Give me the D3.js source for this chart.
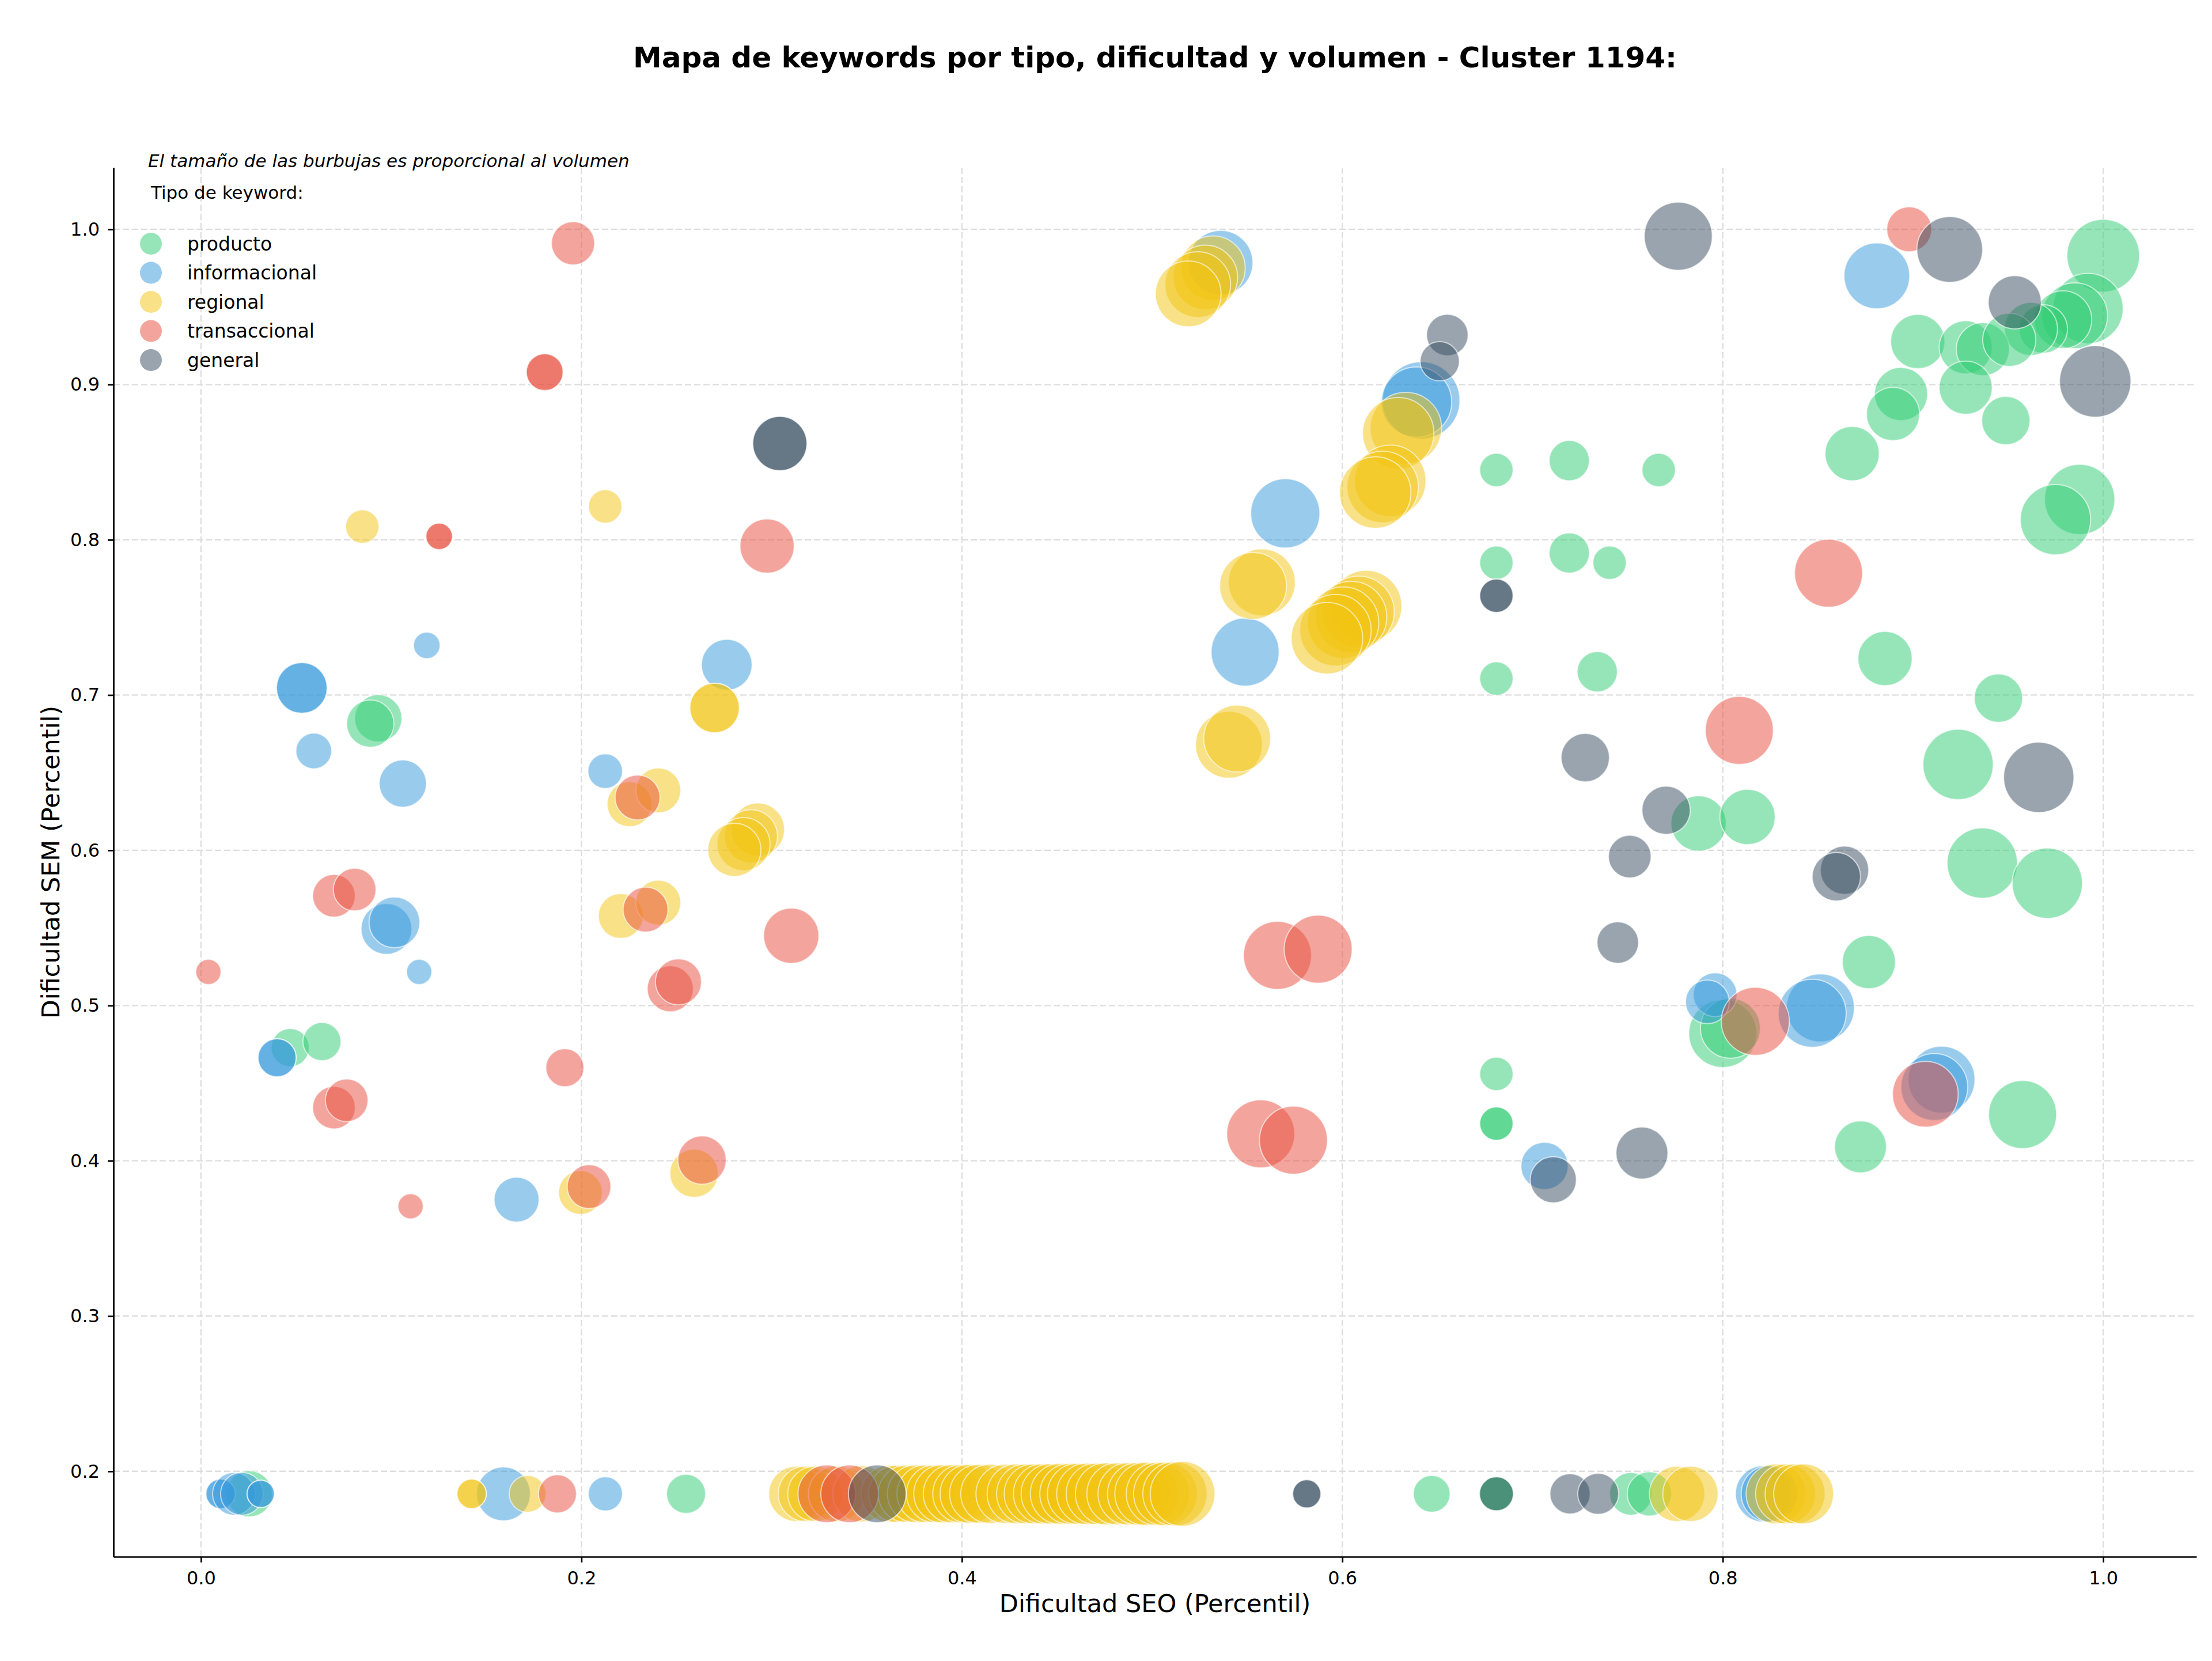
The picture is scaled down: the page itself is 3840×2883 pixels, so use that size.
<!DOCTYPE html>
<html><head><meta charset="utf-8">
<script src="https://cdn.jsdelivr.net/npm/d3@7"></script>
<style>body{margin:0;background:#fff} svg{display:block} text{font-family:"DejaVu Sans",sans-serif}</style>
</head><body>
<script>
// ---------- DATA ----------
const tipos = ["producto", "informacional", "regional", "transaccional", "general"];
const colores = ["#2ecc71", "#3498db", "#f1c40f", "#e74c3c", "#34495e"];

// [Dificultad SEO, Dificultad SEM, volumen]
const producto = [
  [0.0932,0.685,1680],[0.089,0.6816,1680],[0.0469,0.4729,1090],[0.0636,0.4768,1090],
  [0.0254,0.1855,1600],[0.255,0.1855,1150],[0.647,0.1855,1020],[0.681,0.1855,870],[0.681,0.1855,870],
  [0.7517,0.1855,1370],[0.7614,0.1855,1480],
  [0.681,0.845,840],[0.7193,0.851,1220],[0.7663,0.845,840],[0.681,0.7852,840],[0.7193,0.7915,1220],
  [0.7405,0.7852,840],[0.681,0.7106,840],[0.734,0.715,1220],[0.681,0.456,840],[0.681,0.424,840],[0.681,0.424,840],
  [1.0,0.983,3970],[0.992,0.949,3720],[0.985,0.9443,3250],[0.9788,0.9418,2500],[0.9685,0.9358,1760],
  [0.962,0.9358,2120],[0.9025,0.9277,2210],[0.9277,0.924,2120],[0.9367,0.9228,2120],[0.9506,0.9288,2120],
  [0.9277,0.898,2120],[0.8937,0.8939,2120],[0.8895,0.881,2120],[0.9488,0.8768,1760],[0.868,0.8555,2210],
  [0.9876,0.826,3720],[0.9749,0.813,3720],[0.8853,0.7235,2210],[0.9449,0.698,1760],[0.9237,0.6553,3720],
  [0.7873,0.6173,2300],[0.813,0.6215,2300],[0.9364,0.5918,3720],[0.9706,0.5788,3720],[0.8768,0.528,2120],
  [0.800,0.482,3480],[0.804,0.4854,2700],[0.9576,0.4298,3480],[0.8724,0.409,2030]
];
const informacional = [
  [0.053,0.7046,1940],[0.053,0.7046,1940],[0.1187,0.732,530],[0.2764,0.7195,1940],[0.0593,0.664,960],
  [0.1061,0.643,1680],[0.2125,0.651,900],[0.0975,0.5494,1940],[0.1017,0.5536,1940],[0.1147,0.5217,480],
  [0.040,0.4664,1090],[0.040,0.4664,1090],[0.1659,0.375,1520],
  [0.536,0.9785,3130],[0.6415,0.8898,4490],[0.639,0.8887,3720],[0.570,0.817,3600],[0.5489,0.7277,3480],
  [0.881,0.970,3250],[0.796,0.507,1440],[0.7919,0.5024,1440],[0.8513,0.4985,3480],[0.847,0.495,3480],
  [0.915,0.4523,3360],[0.9112,0.4475,3360],[0.7063,0.3967,1680],
  [0.0103,0.1855,650],[0.0103,0.1855,650],[0.0173,0.1855,1370],[0.0215,0.1855,1370],
  [0.0314,0.1855,560],[0.0314,0.1855,560],[0.159,0.1855,2180],[0.2126,0.1855,880],
  [0.8215,0.1855,2400],[0.8245,0.1855,2400]
];
const regional = [
  [0.2125,0.8215,840],[0.0848,0.8085,840],[0.270,0.6917,1850],[0.270,0.6917,1850],
  [0.2253,0.6297,1520],[0.2404,0.6386,1520],[0.2928,0.6134,2120],[0.2891,0.609,2120],
  [0.2852,0.604,2120],[0.2804,0.6003,2120],[0.2207,0.5577,1520],[0.2404,0.5663,1520],
  [0.1995,0.3796,1440],[0.2592,0.392,1760],
  [0.532,0.975,3130],[0.528,0.969,3130],[0.524,0.9644,3250],[0.519,0.9584,3250],
  [0.6334,0.872,3840],[0.6294,0.8686,3840],[0.6252,0.838,3840],[0.6212,0.834,3840],[0.6173,0.8304,3840],
  [0.5577,0.7726,3360],[0.5531,0.7703,3360],
  [0.6125,0.7573,3840],[0.6085,0.7536,3840],[0.6046,0.7503,3840],[0.6004,0.7466,3840],[0.5964,0.7418,3840],[0.5919,0.7366,3840],
  [0.5404,0.668,3360],[0.5447,0.672,3360],
  [0.1423,0.1855,650],[0.1423,0.1855,650],[0.1717,0.1855,1020],
  [0.313,0.1855,2300],[0.318,0.1855,2300],[0.323,0.1855,2300],[0.334,0.1855,2350],[0.347,0.1855,2400],
  [0.362,0.1855,2450],[0.366,0.1855,2450],[0.371,0.1855,2450],[0.376,0.1855,2500],[0.381,0.1855,2500],
  [0.386,0.1855,2500],[0.390,0.1855,2550],[0.395,0.1855,2550],[0.400,0.1855,2550],[0.404,0.1855,2600],
  [0.409,0.1855,2600],[0.415,0.1855,2650],[0.423,0.1855,2650],[0.429,0.1855,2700],[0.434,0.1855,2700],
  [0.438,0.1855,2700],[0.443,0.1855,2750],[0.447,0.1855,2750],[0.452,0.1855,2800],[0.457,0.1855,2800],
  [0.461,0.1855,2800],[0.466,0.1855,2850],[0.471,0.1855,2850],[0.476,0.1855,2900],[0.482,0.1855,2900],
  [0.488,0.1855,2950],[0.493,0.1855,2950],[0.497,0.1855,3000],[0.503,0.1855,3000],[0.507,0.1855,3050],
  [0.512,0.1855,3100],[0.516,0.1855,3150],
  [0.776,0.1855,2300],[0.783,0.1855,2300],[0.828,0.1855,2700],[0.833,0.1855,2700],[0.838,0.1855,2700],[0.8425,0.1855,2700]
];
const transaccional = [
  [0.1956,0.991,1410],[0.1807,0.908,1020],[0.1807,0.908,1020],[0.1252,0.8022,530],[0.1252,0.8022,530],
  [0.2976,0.796,2210],[0.2295,0.634,1520],[0.0699,0.5707,1370],[0.0808,0.5747,1370],[0.0039,0.5217,480],
  [0.2337,0.5618,1520],[0.3103,0.545,2300],[0.2467,0.5108,1600],[0.251,0.5153,1600],[0.0699,0.4343,1370],
  [0.0766,0.439,1370],[0.1913,0.46,1090],[0.1102,0.3707,480],[0.204,0.3834,1440],[0.2634,0.4005,1760],
  [0.5659,0.5323,3480],[0.5873,0.5363,3480],[0.5571,0.4174,3480],[0.5743,0.4133,3480],
  [0.898,1.0,1520],[0.8556,0.7785,3480],[0.8087,0.6772,3480],[0.8171,0.4898,3480],[0.9065,0.4429,3250],
  [0.1874,0.1855,1090],[0.329,0.1855,2500],[0.341,0.1855,2500]
];
const general = [
  [0.3043,0.862,2210],[0.3043,0.862,2210],[0.6552,0.9319,1300],[0.6512,0.915,1160],
  [0.681,0.764,840],[0.681,0.764,840],[0.7766,0.9955,3480],[0.9193,0.987,3250],[0.9535,0.953,2120],
  [0.9958,0.902,3840],[0.7277,0.6597,1760],[0.9661,0.647,3720],[0.7702,0.6258,1760],[0.7511,0.596,1370],
  [0.864,0.5872,1760],[0.8597,0.583,1760],[0.7448,0.5406,1300],[0.7109,0.3878,1600],[0.7575,0.405,2030],
  [0.5813,0.1855,600],[0.5813,0.1855,600],[0.681,0.1855,870],[0.7197,0.1855,1220],[0.7345,0.1855,1260],
  [0.3555,0.1855,2500]
];
const series = [producto, informacional, regional, transaccional, general];

const xTicks = [0.0, 0.2, 0.4, 0.6, 0.8, 1.0];
const yTicks = [0.2, 0.3, 0.4, 0.5, 0.6, 0.7, 0.8, 0.9, 1.0];

const titulo = "Mapa de keywords por tipo, dificultad y volumen - Cluster 1194:";
const nota = "El tamaño de las burbujas es proporcional al volumen";
const tituloLeyenda = "Tipo de keyword:";
const xLabel = "Dificultad SEO (Percentil)";
const yLabel = "Dificultad SEM (Percentil)";

// ---------- CHART ----------
const W = 3840, H = 2883;
const m = {left: 197, right: 27, top: 291, bottom: 181};

const svg = d3.select("body").append("svg").attr("width", W).attr("height", H);

const x = d3.scaleLinear().domain([-0.046, 1.049]).range([m.left, W - m.right]);
const y = d3.scaleLinear().domain([0.145, 1.0397]).range([H - m.bottom, m.top]);
const r = d3.scaleSqrt().domain([0, 4900]).range([0, 70]);

// grid
const grid = svg.append("g");
grid.selectAll("line.gx").data(xTicks).join("line")
  .attr("x1", d => x(d)).attr("x2", d => x(d)).attr("y1", m.top).attr("y2", H - m.bottom)
  .attr("stroke", "#dedede").attr("stroke-width", 2.4).attr("stroke-dasharray", "11,5");
grid.selectAll("line.gy").data(yTicks).join("line")
  .attr("y1", d => y(d)).attr("y2", d => y(d)).attr("x1", m.left).attr("x2", W - m.right)
  .attr("stroke", "#dedede").attr("stroke-width", 2.4).attr("stroke-dasharray", "11,5");

// bubbles
const gB = svg.append("g");
series.forEach((pts, i) => {
  gB.append("g").selectAll("circle").data(pts).join("circle")
    .attr("cx", d => x(d[0])).attr("cy", d => y(d[1])).attr("r", d => r(d[2]))
    .attr("fill", colores[i]).attr("fill-opacity", 0.5)
    .attr("stroke", "#ffffff").attr("stroke-width", 2).attr("stroke-opacity", 0.6);
});

// axes
const fmt = d3.format(".1f");
const ax = svg.append("g").attr("transform", `translate(0,${H - m.bottom})`)
  .call(d3.axisBottom(x).tickValues(xTicks).tickFormat(fmt).tickSize(10).tickSizeOuter(0).tickPadding(15));
const ay = svg.append("g").attr("transform", `translate(${m.left},0)`)
  .call(d3.axisLeft(y).tickValues(yTicks).tickFormat(fmt).tickSize(10).tickSizeOuter(0).tickPadding(14));
[ax, ay].forEach(a => {
  a.select(".domain").attr("stroke", "#000").attr("stroke-width", 2.7);
  a.selectAll(".tick line").attr("stroke", "#000").attr("stroke-width", 2.7);
  a.selectAll(".tick text").attr("font-size", 32).attr("fill", "#000")
    .attr("font-family", '"DejaVu Sans", sans-serif');
});

// labels
svg.append("text").attr("x", (m.left + W - m.right) / 2).attr("y", 2798)
  .attr("text-anchor", "middle").attr("font-size", 43).text(xLabel);
svg.append("text").attr("transform", `translate(103,${(m.top + H - m.bottom) / 2}) rotate(-90)`)
  .attr("text-anchor", "middle").attr("font-size", 43).text(yLabel);

// title
svg.append("text").attr("x", (m.left + W - m.right) / 2).attr("y", 117)
  .attr("text-anchor", "middle").attr("font-size", 50).attr("font-weight", "bold").text(titulo);

// note
svg.append("text").attr("x", 257).attr("y", 290).attr("font-size", 31)
  .attr("font-style", "italic").text(nota);

// legend
svg.append("text").attr("x", 262).attr("y", 345).attr("font-size", 31).text(tituloLeyenda);
const lg = svg.append("g").selectAll("g").data(tipos).join("g")
  .attr("transform", (d, i) => `translate(0,${423 + i * 50.5})`);
lg.append("circle").attr("cx", 262).attr("cy", 0).attr("r", 19)
  .attr("fill", (d, i) => colores[i]).attr("fill-opacity", 0.5);
lg.append("text").attr("x", 325).attr("y", 0).attr("dy", "0.35em").attr("font-size", 33).text(d => d);
</script>
</body></html>
